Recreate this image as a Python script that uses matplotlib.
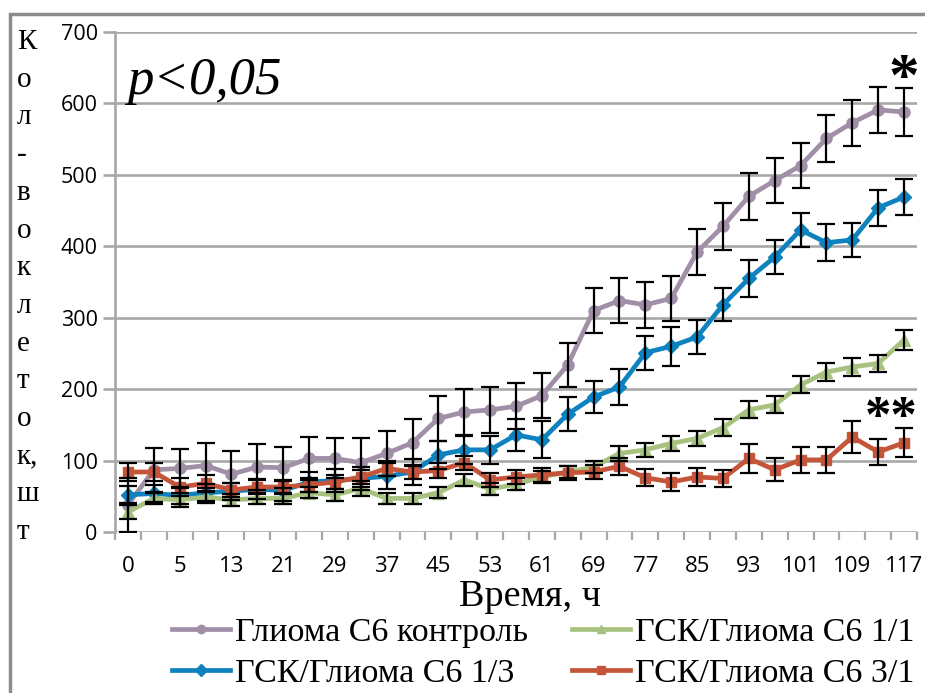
import matplotlib
matplotlib.use("Agg")
import matplotlib.pyplot as plt
from matplotlib.lines import Line2D
from matplotlib.patches import Rectangle
import numpy as np

hours = [0, 1, 5, 9, 13, 17, 21, 25, 29, 33, 37, 41, 45, 49, 53, 57, 61, 65,
         69, 73, 77, 81, 85, 89, 93, 97, 101, 105, 109, 113, 117]

control = [38, 87, 89, 93, 81, 91, 90, 103, 103, 97, 110, 125, 159, 168, 171, 176,
           191, 234, 310, 324, 318, 327, 392, 428, 470, 492, 513, 551, 573, 591, 588]
control_err = [38, 31, 27, 32, 32, 32, 29, 30, 28, 34, 31, 33, 32, 32, 32, 32,
               31, 31, 32, 32, 32, 31, 32, 33, 33, 32, 32, 33, 32, 32, 33]

r13 = [52, 54, 51, 55, 57, 60, 58, 70, 72, 75, 78, 84, 108, 115, 115, 136,
       129, 165, 189, 203, 251, 260, 273, 318, 355, 385, 423, 405, 409, 454, 469]
r13_err = [12, 12, 12, 12, 12, 14, 14, 14, 16, 16, 18, 18, 20, 20, 20, 22,
           26, 24, 23, 25, 24, 27, 24, 23, 26, 24, 24, 26, 24, 25, 25]

r11 = [28, 47, 45, 49, 45, 47, 47, 55, 52, 61, 47, 47, 55, 73, 60, 67,
       77, 84, 91, 110, 115, 124, 131, 146, 171, 178, 206, 224, 231, 236, 269]
r11_err = [10, 8, 10, 8, 8, 8, 8, 8, 8, 10, 8, 8, 8, 8, 8, 8,
           8, 8, 8, 10, 10, 10, 10, 12, 12, 12, 12, 12, 12, 12, 14]

r31 = [84, 84, 63, 68, 59, 63, 63, 66, 70, 77, 89, 84, 86, 97, 73, 77,
       80, 83, 84, 92, 76, 70, 77, 75, 103, 87, 101, 101, 133, 112, 125]
r31_err = [12, 12, 12, 12, 10, 10, 10, 10, 10, 10, 10, 10, 10, 10, 10, 10,
           10, 10, 10, 12, 12, 12, 12, 12, 20, 16, 18, 18, 22, 18, 20]

labels = ["Глиома С6 контроль", "ГСК/Глиома С6 1/3",
          "ГСК/Глиома С6 1/1", "ГСК/Глиома С6 3/1"]
yticks = [0, 100, 200, 300, 400, 500, 600, 700]

W, H = 925, 693
fig = plt.figure(figsize=(W / 100, H / 100), dpi=100)
fig.patch.set_facecolor("white")

def fx(px):
    return px / W

def fy(py):
    return 1 - py / H

ax = fig.add_axes([fx(115), fy(532), fx(917) - fx(115), fy(32) - fy(532)])

x = np.arange(len(hours))
series = [
    (control, control_err, "#A18FA8", "o", 8, labels[0]),
    (r13, r13_err, "#0E82BE", "D", 7, labels[1]),
    (r11, r11_err, "#A7C27F", "^", 8, labels[2]),
    (r31, r31_err, "#C5553A", "s", 7, labels[3]),
]
handles = {}
for vals, err, col, mk, ms, lab in series:
    ax.errorbar(x, vals, yerr=err, fmt="none", ecolor="black", elinewidth=1.6,
                capsize=6.5, capthick=1.6, zorder=4)
    ax.plot(x, vals, color=col, lw=3.4, marker=mk, ms=ms, mec=col, mfc=col, zorder=3)
    handles[lab] = Line2D([], [], color=col, lw=3.4, marker=mk, ms=6, mec=col, mfc=col)

ax.set_xlim(-0.5, len(hours) - 0.5)
ax.set_ylim(0, 700)
ax.set_yticks(yticks)
ax.set_yticklabels([str(v) for v in yticks])
ax.yaxis.grid(True, color="#A8A8A8", lw=1.9)
ax.set_axisbelow(True)
for s in ["top", "right", "bottom"]:
    ax.spines[s].set_visible(False)
ax.spines["left"].set_color("#A8A8A8")
ax.spines["left"].set_linewidth(1.9)
ax.tick_params(axis="y", length=8.5, width=1.9, color="#A8A8A8", labelsize=15.5, pad=4)
for t in ax.get_yticklabels():
    t.set_fontfamily("Open Sans")

ax.set_xticks(np.arange(len(hours) + 1) - 0.5)
ax.set_xticklabels([])
ax.set_xticks(x[::2], minor=True)
ax.set_xticklabels([str(h) for h in hours[::2]], minor=True)
ax.tick_params(axis="x", which="major", length=6, width=1.6, color="#A8A8A8")
ax.tick_params(axis="x", which="minor", length=0, labelsize=16, pad=17)
for t in ax.get_xticklabels(minor=True):
    t.set_fontfamily(["Liberation Sans Narrow", "Open Sans"])

ax.text(0.015, 0.95, "p<0,05", transform=ax.transAxes, ha="left", va="top",
        fontsize=38, fontstyle="italic", family="Liberation Serif")
ax.text(x[-1], control[-1] + 45, "*", ha="center", va="center",
        fontsize=44, family="Liberation Serif", fontweight="bold")
ax.text(x[-1] - 0.5, r31[-1] + 33, "**", ha="center", va="center",
        fontsize=38, family="Liberation Serif", fontweight="bold")

fig.text(fx(530), fy(597), "Время, ч", ha="center", va="center",
         fontsize=27.5, family="Liberation Serif")

ylab_chars = ["К", "о", "л", "-", "в", "о", "к", "л", "е", "т", "о", "к,", "ш", "т"]
for i, ch in enumerate(ylab_chars):
    fig.text(fx(17), fy(42 + i * 37.7), ch, ha="left", va="center",
             fontsize=21, family="Liberation Serif")

leg = fig.legend([handles[l] for l in labels], labels, ncol=2, loc="center",
                 bbox_to_anchor=(fx(543), fy(653)), frameon=False,
                 prop={"family": "Liberation Serif", "size": 24.5},
                 handlelength=1.7, handletextpad=0.15, columnspacing=1.3,
                 labelspacing=0.3)

fig.add_artist(Rectangle((fx(10), -0.1), 1.2, fy(14) + 0.1, transform=fig.transFigure,
                         fill=False, edgecolor="#8C8C8C", lw=2.5))

fig.savefig("out.png", dpi=100)
